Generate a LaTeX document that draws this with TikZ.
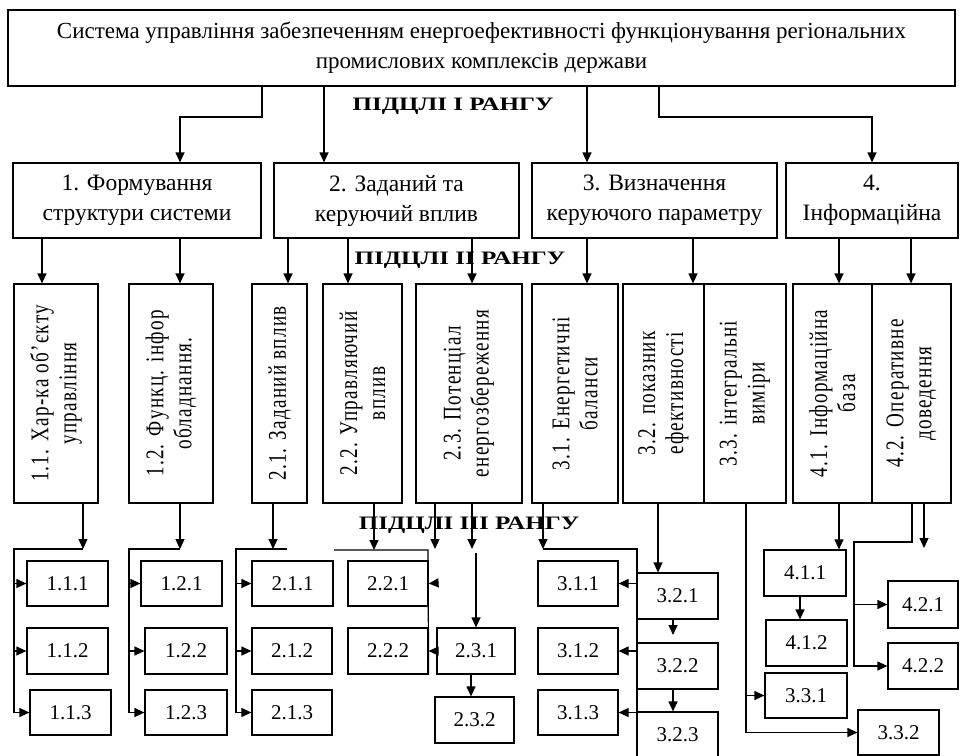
\documentclass[tikz,border=0pt]{standalone}
\usepackage{fontspec}
\setmainfont{Liberation Serif}
\newfontfamily\vserif[FakeStretch=0.75,LetterSpace=5]{Liberation Serif}
\newfontfamily\rankfont[FakeStretch=1.32]{Liberation Serif}
\usetikzlibrary{arrows.meta,fit}
\tikzset{
  box/.style={draw, line width=1.2pt, inner sep=0pt},
  arr/.style={line width=1.2pt, -{Triangle[length=10pt,width=9pt]}},
  ln/.style={line width=1.2pt},
  ttl/.style={align=center, inner sep=0pt, font=\fontsize{23}{30}\selectfont},
  lone/.style={align=center, inner sep=0pt, font=\fontsize{23.5}{30}\selectfont},
  vtext/.style={rotate=90, align=center, inner sep=0pt, font=\vserif\fontsize{25.5}{28}\selectfont},
  leaf/.style={inner sep=0pt, font=\fontsize{21}{24}\selectfont},
  rank/.style={inner sep=0pt, font=\rankfont\bfseries\fontsize{19}{22}\selectfont}
}
\newcommand\bx[7][leaf]{\node[box,fit={(#3,#4) (#5,#6)}] (#2) {};
  \node[#1] (#2t) at (#2.center) {#7};}
\begin{document}
\begin{tikzpicture}[x=1pt,y=-1pt]
\useasboundingbox (0,0) rectangle (963,755);
% top
\bx[ttl]{top}{8}{10}{955}{86}{Система управління забезпеченням енергоефективності функціонування регіональних\\промислових комплексів держави}
% level 1
\bx[lone]{b1}{13}{163}{261}{238}{1. Формування\\структури системи}
\bx[lone]{b2}{274}{163}{519}{238}{2. Заданий та\\керуючий вплив}
\bx[lone]{b3}{532}{163}{777}{238}{3. Визначення\\керуючого параметру}
\bx[lone]{b4}{786}{163}{958}{238}{4.\\Інформаційна}
\node[rank] (r1) at (453,106) {ПІДЦЛІ І РАНГУ};
\draw[arr] (top.south -| 262,0) -- (262,117) -| (b1.north -| 180,0);
\draw[arr] (top.south -| 324,0) -- (b2.north -| 324,0);
\draw[arr] (top.south -| 587,0) -- (b3.north -| 587,0);
\draw[arr] (top.south -| 659,0) -- (659,117) -| (b4.north -| 872,0);
% level 2
\bx[vtext]{b11}{14}{284}{98}{503}{1.1. Хар-ка об’єкту\\управління}
\bx[vtext]{b12}{129}{284}{213}{503}{1.2. Функц. інфор\\обладнання.}
\bx[vtext]{b21}{252}{284}{307}{503}{2.1. Заданий вплив}
\bx[vtext]{b22}{323}{284}{402}{503}{2.2. Управляючий\\вплив}
\bx[vtext]{b23}{416}{284}{522}{503}{2.3. Потенціал\\енергозбереження}
\bx[vtext]{b31}{532}{284}{618}{503}{3.1. Енергетичні\\баланси}
\bx[vtext]{b32}{623}{284}{704}{503}{3.2. показник\\ефективності}
\bx[vtext]{b33}{704}{284}{786}{503}{3.3. інтегральні\\виміри}
\bx[vtext]{b41}{793}{284}{872}{503}{4.1. Інформаційна\\база}
\bx[vtext]{b42}{872}{284}{951}{503}{4.2. Оперативне\\доведення}
\node[rank] (r2) at (460,260) {ПІДЦЛІ ІІ РАНГУ};
\foreach \s/\t/\x in {b1/b11/42, b1/b12/180, b2/b21/288, b2/b22/348, b2/b23/472, b3/b31/587, b3/b32/693, b4/b41/839, b4/b42/911}
  \draw[arr] (\s.south -| \x,0) -- (\t.north -| \x,0);
% level 3
\node[rank] (r3) at (469,525) {ПІДЦЛІ ІІІ РАНГУ};
% group 1.1
\bx{b111}{27}{561}{108}{606}{1.1.1}
\bx{b112}{27}{628}{108}{674}{1.1.2}
\bx{b113}{30}{690}{111}{735}{1.1.3}
\draw[arr] (b11.south -| 83,0) -- (83,549);
\draw[arr] (83,549) -- (14,549) |- (b113.west);
\draw[arr] (b111.west -| 14,0) -- (b111.west);
\draw[arr] (b112.west -| 14,0) -- (b112.west);
% group 1.2
\bx{b121}{141}{561}{222}{606}{1.2.1}
\bx{b122}{145}{628}{227}{674}{1.2.2}
\bx{b123}{145}{690}{227}{735}{1.2.3}
\draw[arr] (b12.south -| 180,0) -- (180,549);
\draw[arr] (180,549) -- (129,549) |- (b123.west);
\draw[arr] (b121.west -| 129,0) -- (b121.west);
\draw[arr] (b122.west -| 129,0) -- (b122.west);
% group 2.1
\bx{b211}{252}{561}{333}{606}{2.1.1}
\bx{b212}{252}{628}{332}{674}{2.1.2}
\bx{b213}{252}{690}{332}{735}{2.1.3}
\draw[arr] (b21.south -| 273,0) -- (273,549);
\draw[arr] (287,549) -- (236,549) |- (b213.west);
\draw[arr] (b211.west -| 236,0) -- (b211.west);
\draw[arr] (b212.west -| 236,0) -- (b212.west);
% group 2.2
\bx{b221}{348}{561}{428}{606}{2.2.1}
\bx{b222}{348}{628}{428}{674}{2.2.2}
\draw[arr] (b22.south -| 374,0) -- (374,550);
\draw[ln] (334,550) -- (428,550) -- (b222.south east);
\draw[arr] (437,583) -- (b221.east);
% group 2.3
\bx{b231}{437}{628}{515}{674}{2.3.1}
\bx{b232}{435}{697}{514}{743}{2.3.2}
\draw[arr] (b23.south -| 435,0) -- (435,549);
\draw[arr] (b23.south -| 472,0) -- (472,549);
\draw[arr] (476,553) -- (b231.north -| 476,0);
\draw[arr] (b231.west) -- (b222.east);
\draw[arr] (b231.south -| 471,0) -- (b232.north -| 471,0);
% group 3.1
\bx{b311}{538}{561}{618}{606}{3.1.1}
\bx{b312}{538}{628}{618}{674}{3.1.2}
\bx{b313}{538}{690}{618}{735}{3.1.3}
\draw[arr] (b31.south -| 543,0) -- (543,549);
\draw[ln] (543,549) -- (637,549) -- (637,765);
\draw[arr] (b311.east -| 637,0) -- (b311.east);
\draw[arr] (b312.east -| 637,0) -- (b312.east);
\draw[arr] (b313.east -| 637,0) -- (b313.east);
% group 3.2
\bx{b321}{637}{573}{718}{619}{3.2.1}
\bx{b322}{637}{643}{718}{689}{3.2.2}
\node[box,fit={(637,712) (718,765)}] (b323) {};
\node[leaf] (b323t) at (677.5,735) {3.2.3};
\draw[arr] (b32.south -| 658,0) -- (b321.north -| 658,0);
\draw[arr] (b321.south -| 673,0) -- (673,635);
\draw[arr] (b322.south -| 673,0) -- (b323.north -| 673,0);
% group 3.3
\bx{b331}{765}{673}{847}{718}{3.3.1}
\bx{b332}{858}{710}{939}{755}{3.3.2}
\draw[arr] (b33.south -| 746,0) |- (b332.west);
\draw[arr] (b331.west -| 746,0) -- (b331.west);
% group 4.1
\bx{b411}{764}{550}{846}{596}{4.1.1}
\bx{b412}{766}{620}{847}{666}{4.1.2}
\draw[arr] (b41.south -| 839,0) -- (b411.north -| 839,0);
\draw[arr] (b411.south -| 800,0) -- (b412.north -| 800,0);
% group 4.2
\bx{b421}{888}{581}{958}{628}{4.2.1}
\bx{b422}{888}{643}{958}{689}{4.2.2}
\draw[arr] (b42.south -| 912,0) -- (912,542) -- (854,542) |- (b422.west);
\draw[arr] (b421.west -| 854,0) -- (b421.west);
\draw[arr] (b42.south -| 924,0) -- (924,548);
\end{tikzpicture}
\end{document}
